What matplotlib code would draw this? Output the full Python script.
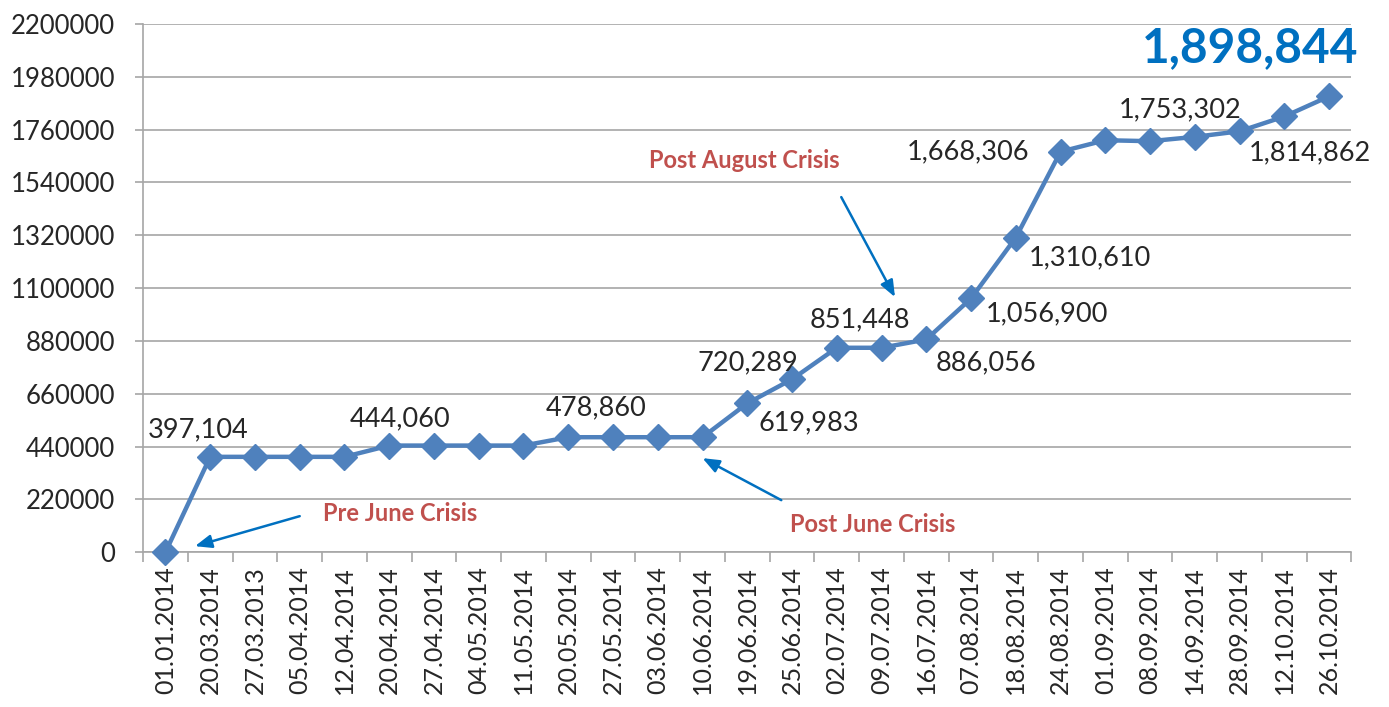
import numpy as np
import matplotlib.pyplot as plt

plt.rcParams['font.family'] = ['Lato', 'DejaVu Sans']

# Dates and values
dates = [
    "01.01.2014", "20.03.2014", "27.03.2013", "05.04.2014", "12.04.2014",
    "20.04.2014", "27.04.2014", "04.05.2014", "11.05.2014", "20.05.2014",
    "27.05.2014", "03.06.2014", "10.06.2014", "19.06.2014", "25.06.2014",
    "02.07.2014", "09.07.2014", "16.07.2014", "07.08.2014", "18.08.2014",
    "24.08.2014", "01.09.2014", "08.09.2014", "14.09.2014", "28.09.2014",
    "12.10.2014", "26.10.2014",
]
values = [
    0, 397104, 397104, 397104, 397104,
    444060, 444060, 444060, 444060, 478860,
    478860, 478860, 478860, 619983, 720289,
    851448, 851448, 886056, 1056900, 1310610,
    1668306, 1716000, 1712000, 1730000, 1753302,
    1814862, 1898844,
]

# which points get a data label, and the label offset (pixels)
label_points = [1, 5, 9, 13, 14, 15, 17, 18, 19, 20, 24, 25]
label_offsets = {
    1: (-12, 27), 5: (11, 27), 9: (28, 29), 13: (62, -19), 14: (-44, 16),
    15: (23, 28), 17: (60, -23), 18: (76, -15), 19: (74, -20),
    20: (-93, 0), 24: (-59, 21), 25: (26, -36),
}

line_color = "#4F81BD"
grid_color = "#A6A6A6"
note_color = "#C0504D"
arrow_color = "#0070C0"
text_color = "#262626"

fig = plt.figure(figsize=(13.89, 7.07), dpi=100)
ax = fig.add_axes([0.103, 0.219, 0.870, 0.747])

x = np.arange(len(dates))
ax.plot(x, values, color=line_color, linewidth=3.2, marker="D",
        markersize=13, zorder=3, clip_on=False)

ax.set_xlim(-0.5, len(dates) - 0.5)
ax.set_ylim(0, 2200000)
ax.set_yticks(np.arange(0, 2200001, 220000))
ax.set_yticklabels([str(v) for v in range(0, 2200001, 220000)])
ax.set_xticks(x)
ax.set_xticklabels(dates, rotation=90)
ax.set_xticks(np.arange(-0.5, len(dates), 1), minor=True)

ax.tick_params(axis="x", which="major", length=0, pad=10, labelsize=18, labelcolor=text_color)
ax.tick_params(axis="x", which="minor", length=7, color=grid_color, width=1.2)
ax.tick_params(axis="y", length=6, color=grid_color, width=1.2, pad=14, labelsize=18.5, labelcolor=text_color)

ax.grid(axis="y", color=grid_color, linewidth=1.2, zorder=0)
for side in ["top", "right"]:
    ax.spines[side].set_visible(False)
for side in ["left", "bottom"]:
    ax.spines[side].set_color(grid_color)
    ax.spines[side].set_linewidth(1.2)

# data labels
for i in label_points:
    dx, dy = label_offsets[i]
    ax.annotate(f"{values[i]:,}", (x[i], values[i]), xytext=(dx, dy),
                textcoords="offset pixels", ha="center", va="center",
                fontsize=19.5, color=text_color, zorder=4)

# final value highlighted
ax.annotate(f"{values[-1]:,}", (x[-1], values[-1]), xytext=(-79, 48),
            textcoords="offset pixels", ha="center", va="center",
            fontsize=34.5, fontweight="bold", color=arrow_color,
            annotation_clip=False)

# crisis notes with arrows
arrow_style = dict(arrowstyle="-|>,head_length=1.0,head_width=0.4",
                   color=arrow_color, lw=1.8, shrinkA=0, shrinkB=0)
ax.annotate("", xy=(0.66, 25000), xytext=(3.0, 150000), arrowprops=arrow_style)
ax.text(5.24, 162500, "Pre June Crisis", ha="center", va="center",
        fontsize=17, fontweight="bold", color=note_color)

ax.annotate("", xy=(12.0, 391700), xytext=(13.76, 216700), arrowprops=arrow_style)
ax.text(15.8, 116700, "Post June Crisis", ha="center", va="center",
        fontsize=17, fontweight="bold", color=note_color)

ax.annotate("", xy=(16.3, 1062500), xytext=(15.1, 1479000), arrowprops=arrow_style)
ax.text(12.94, 1633000, "Post August Crisis", ha="center", va="center",
        fontsize=17, fontweight="bold", color=note_color)

fig.savefig("out.png", dpi=100)
